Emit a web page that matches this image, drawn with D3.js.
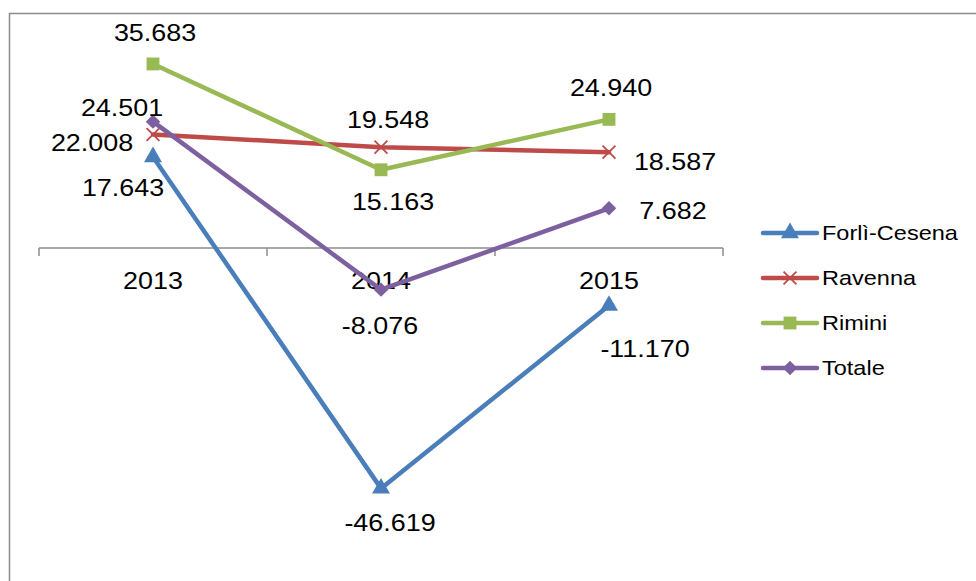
<!DOCTYPE html>
<html>
<head>
<meta charset="utf-8">
<script src="https://cdn.jsdelivr.net/npm/d3@7"></script>
<style>
  body { margin: 0; background: #fff; }
  text { font-family: "Liberation Sans", Arial, sans-serif; fill: #000; }
</style>
</head>
<body>
<svg id="chart" width="976" height="581"></svg>
<script>
const years = ['2013', '2014', '2015'];
const seriesNames = ['Forlì-Cesena', 'Ravenna', 'Rimini', 'Totale'];
const forliCesena = [17.643, -46.619, -11.170];
const ravenna = [22.008, 19.548, 18.587];
const rimini = [35.683, 15.163, 24.940];
const totale = [24.501, -8.076, 7.682];

const colors = ['#4a7ebb', '#be4b48', '#98b954', '#7d60a0'];
const markers = ['triangle', 'x', 'square', 'diamond'];
// label offsets (dx, dy) from each point, per series
const labelOffsets = [
  [[-30, 31], [9, 34], [36, 43]],
  [[-61, 8], [7, -27], [66, 10]],
  [[2, -31], [12, 32], [2, -32]],
  [[-31, -14], [-1, 36], [64, 2]]
];

const series = [forliCesena, ravenna, rimini, totale].map((values, i) => ({
  name: seriesNames[i],
  values: values,
  color: colors[i],
  marker: markers[i],
  offsets: labelOffsets[i]
}));

const svg = d3.select('#chart');
const fmt = v => d3.format('.3f')(v).replace('\u2212', '-');

function drawMarker(sel, s) {
  if (s.marker === 'triangle') {
    sel.attr('d', d3.symbol().type(d3.symbolTriangle).size(140)())
      .attr('fill', s.color);
  } else if (s.marker === 'x') {
    sel.attr('d', d3.symbol().type(d3.symbolX).size(110)())
      .attr('fill', 'none').attr('stroke', s.color).attr('stroke-width', 1.8);
  } else if (s.marker === 'square') {
    sel.attr('d', d3.symbol().type(d3.symbolSquare).size(165)())
      .attr('fill', s.color);
  } else {
    sel.attr('d', d3.symbol().type(d3.symbolSquare).size(105)())
      .attr('fill', s.color)
      .attr('transform', function () {
        return (d3.select(this).attr('transform') || '') + ' rotate(45)';
      });
  }
}

// outer frame
svg.append('rect')
  .attr('x', 9.5).attr('y', 13.5)
  .attr('width', 1000).attr('height', 1000)
  .attr('fill', 'none')
  .attr('stroke', '#8c8c8c')
  .attr('stroke-width', 1.5);

const x = d3.scaleBand().domain(years).range([39, 723]);
const y = d3.scaleLinear().domain([-60, 40]).range([557.4, 41.7]);
const cx = d => x(d) + x.bandwidth() / 2;

// category axis at zero
const axisG = svg.append('g').attr('transform', `translate(0,${y(0)})`);
axisG.append('line')
  .attr('x1', 39).attr('x2', 723)
  .attr('stroke', '#8c8c8c').attr('stroke-width', 1.5);
axisG.selectAll('.tick')
  .data(d3.range(years.length + 1))
  .join('line')
  .attr('x1', i => 39 + i * x.bandwidth())
  .attr('x2', i => 39 + i * x.bandwidth())
  .attr('y1', 0).attr('y2', 8)
  .attr('stroke', '#8c8c8c').attr('stroke-width', 1.5);
axisG.selectAll('.cat')
  .data(years)
  .join('text')
  .attr('transform', d => `translate(${cx(d)},33) scale(1.17,1)`)
  .attr('text-anchor', 'middle')
  .attr('dominant-baseline', 'central')
  .attr('font-size', 23)
  .text(d => d);

const line = d3.line()
  .x((d, i) => cx(years[i]))
  .y(d => y(d));

const sg = svg.selectAll('.series')
  .data(series)
  .join('g');

sg.append('path')
  .attr('d', d => line(d.values))
  .attr('fill', 'none')
  .attr('stroke', d => d.color)
  .attr('stroke-width', 4.5)
  .attr('stroke-linejoin', 'round')
  .attr('stroke-linecap', 'round');

sg.each(function (s) {
  const g = d3.select(this);
  g.selectAll('.pt')
    .data(s.values)
    .join('path')
    .attr('transform', (v, i) => `translate(${cx(years[i])},${y(v)})`)
    .call(drawMarker, s);
  g.selectAll('.lbl')
    .data(s.values)
    .join('text')
    .attr('transform', (v, i) =>
      `translate(${cx(years[i]) + s.offsets[i][0]},${y(v) + s.offsets[i][1]}) scale(1.17,1)`)
    .attr('text-anchor', 'middle')
    .attr('dominant-baseline', 'central')
    .attr('font-size', 23)
    .text(v => fmt(v));
});

// legend
const legend = svg.append('g');
const lg = legend.selectAll('g')
  .data(series)
  .join('g')
  .attr('transform', (d, i) => `translate(763,${233 + i * 45})`);
lg.append('line')
  .attr('x1', 0).attr('x2', 54)
  .attr('stroke', d => d.color)
  .attr('stroke-width', 4.5)
  .attr('stroke-linecap', 'round');
lg.each(function (s) {
  d3.select(this).append('path')
    .attr('transform', 'translate(27,0)')
    .call(drawMarker, s);
});
lg.append('text')
  .attr('transform', 'translate(59,0) scale(1.12,1)')
  .attr('dominant-baseline', 'central')
  .attr('font-size', 21)
  .text(d => d.name);
</script>
</body>
</html>
